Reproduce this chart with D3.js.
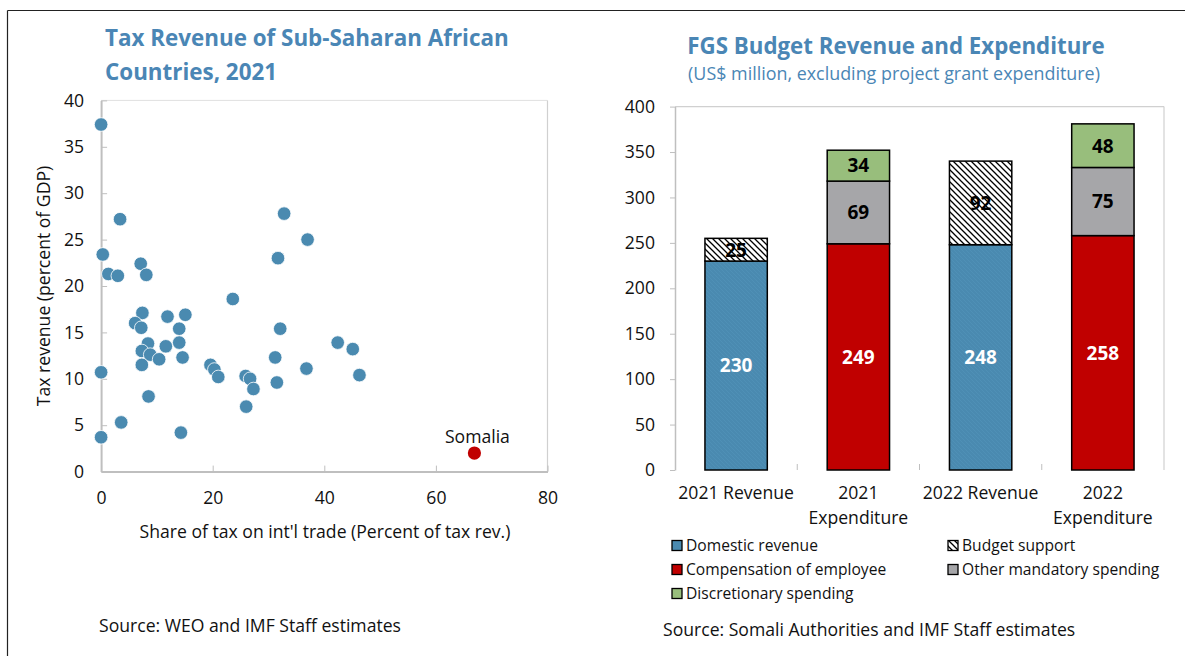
<!DOCTYPE html>
<html>
<head>
<meta charset="utf-8">
<script src="https://cdn.jsdelivr.net/npm/d3@7"></script>
<style>
  html, body { margin: 0; padding: 0; background: #fff; }
  svg { display: block; font-family: "Open Sans", "Noto Sans", sans-serif; }
</style>
</head>
<body>
<svg id="chart" width="1185" height="656"></svg>
<script>
// ---------------- DATA ----------------
// Left panel: scatter of SSA countries
const tradeShare = [0, 3.4, 0.3, 1.3, 3.0, 7.1, 8.1, 23.6, 32.8, 37.0, 31.7, 7.4, 11.9, 15.1, 6.1, 7.2,
  14.0, 32.1, 8.4, 11.6, 14.0, 7.3, 8.8, 10.4, 14.6, 7.3, 0, 19.6, 20.3, 21.0, 25.9, 26.7, 27.3,
  31.2, 31.5, 36.8, 42.4, 45.1, 46.3, 8.5, 26.0, 3.6, 14.3, 0];
const taxRevenue = [37.4, 27.2, 23.4, 21.3, 21.1, 22.4, 21.2, 18.6, 27.8, 25.0, 23.0, 17.1, 16.7, 16.9, 16.0, 15.5,
  15.4, 15.4, 13.8, 13.5, 13.9, 13.0, 12.6, 12.1, 12.3, 11.5, 10.7, 11.5, 11.0, 10.2, 10.3, 10.0, 8.9,
  12.3, 9.6, 11.1, 13.9, 13.2, 10.4, 8.1, 7.0, 5.3, 4.2, 3.7];
const somaliaShare = [66.9];
const somaliaTax = [2.0];
const somaliaLabel = ["Somalia"];
const scatterXTicks = [0, 20, 40, 60, 80];
const scatterYTicks = [0, 5, 10, 15, 20, 25, 30, 35, 40];

// Right panel: stacked bars
const barCategories = ["2021 Revenue", "2021 Expenditure", "2022 Revenue", "2022 Expenditure"];
const barCategoryLines = [["2021 Revenue"], ["2021", "Expenditure"], ["2022 Revenue"], ["2022", "Expenditure"]];
const seriesKeys = ["Domestic revenue", "Compensation of employee", "Budget support", "Other mandatory spending", "Discretionary spending"];
const domesticRevenue = [230, 0, 248, 0];
const compensation = [0, 249, 0, 258];
const budgetSupport = [25, 0, 92, 0];
const otherMandatory = [0, 69, 0, 75];
const discretionary = [0, 34, 0, 48];
const barYTicks = [0, 50, 100, 150, 200, 250, 300, 350, 400];
const legendOrder = ["Domestic revenue", "Budget support", "Compensation of employee", "Other mandatory spending", "Discretionary spending"];

// ---------------- STYLE ----------------
const BLUE = "#4a8ab0";
const TITLE_BLUE = "#4a86b5";
const RED = "#c00000";
const GRAY = "#a6a6a9";
const GREEN = "#98be7c";
const AXIS = "#bfbfbf";
const TXT = 17.6;

const svg = d3.select("#chart");

// outer frame
svg.append("line").attr("x1", 7.5).attr("x2", 1185).attr("y1", 10.5).attr("y2", 10.5).attr("stroke", "#222").attr("stroke-width", 1.2);
svg.append("line").attr("x1", 7.5).attr("x2", 7.5).attr("y1", 10.5).attr("y2", 656).attr("stroke", "#222").attr("stroke-width", 1.2);

// hatch pattern
const defs = svg.append("defs");
const pat = defs.append("pattern").attr("id", "hatch").attr("patternUnits", "userSpaceOnUse")
  .attr("width", 6).attr("height", 6);
pat.append("rect").attr("width", 6).attr("height", 6).attr("fill", "#fff");
pat.append("path").attr("d", "M-1,-1 L7,7 M-1,5 L1,7 M5,-1 L7,1").attr("stroke", "#000").attr("stroke-width", 1.3);

const patB = defs.append("pattern").attr("id", "bluetex").attr("patternUnits", "userSpaceOnUse")
  .attr("width", 4).attr("height", 4);
patB.append("rect").attr("width", 4).attr("height", 4).attr("fill", BLUE);
patB.append("path").attr("d", "M-1,-1 L5,5 M-1,3 L1,5 M3,-1 L5,1").attr("stroke", "#4f90b6").attr("stroke-width", 1);

// ================= LEFT: SCATTER =================
const sx = d3.scaleLinear().domain([0, 80]).range([101.1, 547.5]);
const sy = d3.scaleLinear().domain([0, 40]).range([471.6, 100.4]);
const left = svg.append("g");

left.append("text").attr("x", 105).attr("y", 46).attr("fill", TITLE_BLUE)
  .attr("font-size", 22.4).attr("font-weight", 700).text("Tax Revenue of Sub-Saharan African");
left.append("text").attr("x", 105).attr("y", 80).attr("fill", TITLE_BLUE)
  .attr("font-size", 22.4).attr("font-weight", 700).text("Countries, 2021");

// frame
left.append("line").attr("x1", sx(0)).attr("x2", sx(80)).attr("y1", sy(40)).attr("y2", sy(40)).attr("stroke", "#e0e0e0").attr("stroke-width", 1);
left.append("line").attr("x1", sx(80)).attr("x2", sx(80)).attr("y1", sy(40)).attr("y2", sy(0)).attr("stroke", "#d0d0d0").attr("stroke-width", 1.2);

const sxAxis = d3.axisBottom(sx).tickValues(scatterXTicks).tickSizeInner(-6).tickSizeOuter(0).tickPadding(20);
const gx = left.append("g").attr("transform", `translate(0,${sy(0)})`).call(sxAxis);
gx.select(".domain").attr("stroke", AXIS).attr("stroke-width", 2);
gx.selectAll(".tick line").attr("stroke", AXIS).attr("stroke-width", 1);
gx.selectAll(".tick text").attr("font-size", TXT).attr("fill", "#111").attr("font-family", "Open Sans");

const syAxis = d3.axisLeft(sy).tickValues(scatterYTicks).tickSizeInner(-6).tickSizeOuter(0).tickPadding(17);
const gy = left.append("g").attr("transform", `translate(${sx(0)},0)`).call(syAxis);
gy.select(".domain").attr("stroke", AXIS).attr("stroke-width", 2);
gy.selectAll(".tick line").attr("stroke", AXIS).attr("stroke-width", 1);
gy.selectAll(".tick text").attr("font-size", TXT).attr("fill", "#111").attr("font-family", "Open Sans");

left.append("text").attr("x", 325).attr("y", 538).attr("text-anchor", "middle")
  .attr("font-size", 17.6).attr("fill", "#111").text("Share of tax on int'l trade (Percent of tax rev.)");
left.append("text").attr("transform", "translate(50,286) rotate(-90)").attr("text-anchor", "middle")
  .attr("font-size", 17.6).attr("fill", "#111").text("Tax revenue (percent of GDP)");

const pts = tradeShare.map((d, i) => ({ x: d, y: taxRevenue[i] }));
left.append("g").selectAll("circle").data(pts).join("circle")
  .attr("cx", d => sx(d.x)).attr("cy", d => sy(d.y)).attr("r", 6.8)
  .attr("fill", BLUE).attr("stroke", "#fff").attr("stroke-width", 0.8);

const som = somaliaShare.map((d, i) => ({ x: d, y: somaliaTax[i], label: somaliaLabel[i] }));
left.append("g").selectAll("circle").data(som).join("circle")
  .attr("cx", d => sx(d.x)).attr("cy", d => sy(d.y)).attr("r", 6.6).attr("fill", RED);
left.append("g").selectAll("text").data(som).join("text")
  .attr("x", d => sx(d.x) + 3).attr("y", d => sy(d.y) - 10).attr("text-anchor", "middle")
  .attr("font-size", TXT).attr("fill", "#111").text(d => d.label);

left.append("text").attr("x", 99).attr("y", 632).attr("font-size", 17.6).attr("fill", "#111")
  .text("Source: WEO and IMF Staff estimates");

// ================= RIGHT: STACKED BARS =================
const right = svg.append("g");
right.append("text").attr("x", 896).attr("y", 54).attr("text-anchor", "middle").attr("fill", TITLE_BLUE)
  .attr("font-size", 22.3).attr("font-weight", 700).text("FGS Budget Revenue and Expenditure");
right.append("text").attr("x", 894).attr("y", 80).attr("text-anchor", "middle").attr("fill", TITLE_BLUE)
  .attr("font-size", 17.9).text("(US$ million, excluding project grant expenditure)");

const bx = d3.scaleBand().domain(barCategories).range([675, 1164]).paddingInner(0.49).paddingOuter(0.245);
const by = d3.scaleLinear().domain([0, 400]).range([470, 106.6]);

right.append("line").attr("x1", 675).attr("x2", 1164).attr("y1", by(400)).attr("y2", by(400)).attr("stroke", "#d0d0d0").attr("stroke-width", 1.2);
right.append("line").attr("x1", 1164).attr("x2", 1164).attr("y1", by(400)).attr("y2", by(0)).attr("stroke", "#d0d0d0").attr("stroke-width", 1.2);

const byAxis = d3.axisLeft(by).tickValues(barYTicks).tickSizeInner(5).tickSizeOuter(0).tickPadding(15);
const gby = right.append("g").attr("transform", "translate(675,0)").call(byAxis);
gby.select(".domain").attr("stroke", AXIS).attr("stroke-width", 1.5);
gby.selectAll(".tick line").attr("stroke", AXIS);
gby.selectAll(".tick text").attr("font-size", TXT).attr("fill", "#111").attr("font-family", "Open Sans");

// category separators on x axis
const step = bx.step();
const seps = barCategories.slice(1).map(c => bx(c) - bx.paddingInner() * step / 2);
right.append("g").selectAll("line").data(seps).join("line")
  .attr("x1", d => d).attr("x2", d => d).attr("y1", by(0)).attr("y2", by(0) - 6).attr("stroke", AXIS);

const rows = barCategories.map((c, i) => ({
  cat: c,
  "Domestic revenue": domesticRevenue[i],
  "Compensation of employee": compensation[i],
  "Budget support": budgetSupport[i],
  "Other mandatory spending": otherMandatory[i],
  "Discretionary spending": discretionary[i]
}));
const stack = d3.stack().keys(seriesKeys)(rows);
const fills = {
  "Domestic revenue": "url(#bluetex)",
  "Compensation of employee": RED,
  "Budget support": "url(#hatch)",
  "Other mandatory spending": GRAY,
  "Discretionary spending": GREEN
};
const labelColor = {
  "Domestic revenue": "#fff",
  "Compensation of employee": "#fff",
  "Budget support": "#000",
  "Other mandatory spending": "#000",
  "Discretionary spending": "#000"
};

stack.forEach(s => {
  const segs = s.map(d => ({ key: s.key, cat: d.data.cat, y0: d[0], y1: d[1], v: d.data[s.key] })).filter(d => d.v > 0);
  right.append("g").selectAll("rect").data(segs).join("rect")
    .attr("x", d => bx(d.cat)).attr("width", bx.bandwidth())
    .attr("y", d => by(d.y1)).attr("height", d => by(d.y0) - by(d.y1))
    .attr("fill", fills[s.key]).attr("stroke", "#000").attr("stroke-width", 1.5);
});
stack.forEach(s => {
  const segs = s.map(d => ({ key: s.key, cat: d.data.cat, y0: d[0], y1: d[1], v: d.data[s.key] })).filter(d => d.v > 0);
  right.append("g").selectAll("text").data(segs).join("text")
    .attr("x", d => bx(d.cat) + bx.bandwidth() / 2).attr("y", d => by((d.y0 + d.y1) / 2))
    .attr("dy", "0.36em").attr("text-anchor", "middle")
    .attr("font-size", 19).attr("font-weight", 700).attr("fill", labelColor[s.key])
    .text(d => d.v);
});

// category labels
barCategories.forEach((c, i) => {
  const t = right.append("text").attr("x", bx(c) + bx.bandwidth() / 2).attr("y", 499)
    .attr("text-anchor", "middle").attr("font-size", TXT).attr("fill", "#111");
  barCategoryLines[i].forEach((ln, j) => {
    t.append("tspan").attr("x", bx(c) + bx.bandwidth() / 2).attr("y", 499 + j * 25).text(ln);
  });
});

// legend
const legendPos = [[672, 546], [948, 546], [672, 570], [948, 570], [672, 594]];
const lg = right.append("g");
legendOrder.forEach((k, i) => {
  const [lx, ly] = legendPos[i];
  lg.append("rect").attr("x", lx).attr("y", ly - 5.5).attr("width", 10).attr("height", 10)
    .attr("fill", fills[k] === "url(#bluetex)" ? BLUE : fills[k]).attr("stroke", "#000").attr("stroke-width", 1.3);
  lg.append("text").attr("x", lx + 14).attr("y", ly).attr("dy", "0.35em")
    .attr("font-size", 15.6).attr("fill", "#111").text(k);
});

right.append("text").attr("x", 663).attr("y", 636).attr("font-size", 17.6).attr("fill", "#111")
  .text("Source: Somali Authorities and IMF Staff estimates");
</script>
</body>
</html>
